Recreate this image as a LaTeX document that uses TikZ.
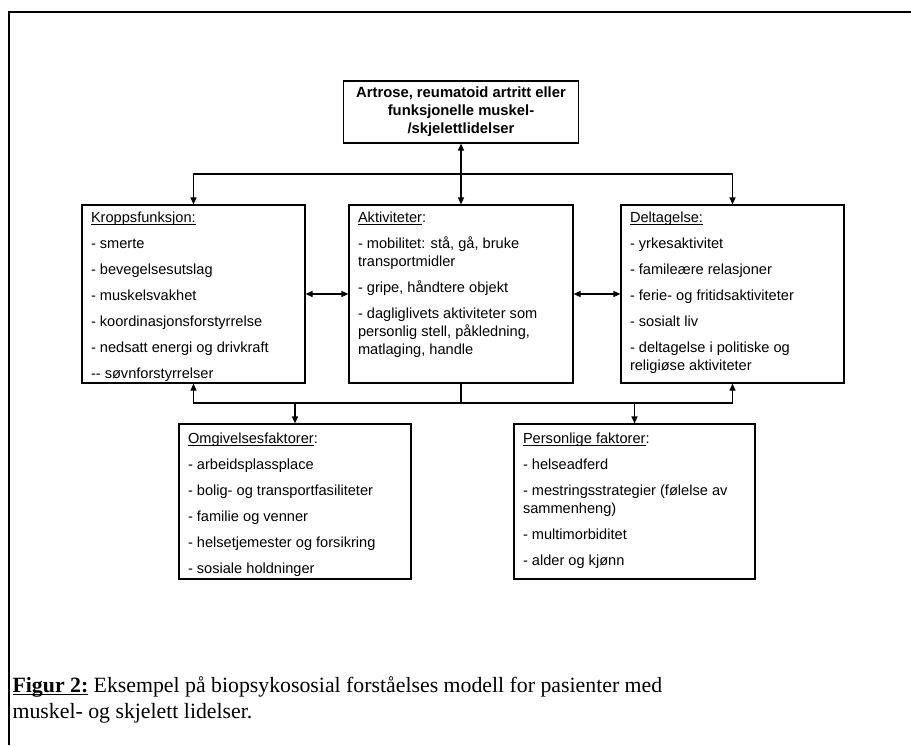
\documentclass[tikz,border=0pt]{standalone}
\usepackage{fontspec}
\setmainfont{Liberation Serif}
\setsansfont{Liberation Sans}
\usetikzlibrary{arrows.meta}
\def\boxnode{\node[draw,line width=0.6pt,inner sep=0pt]}
\def\listnode{\node[anchor=north west,align=left,inner xsep=4.5pt,inner ysep=3.5pt,font=\sffamily\fontsize{7.3}{9}\selectfont]}
\def\gap{\\[4pt]}
\def\ul#1{\setbox0\hbox{#1}\rlap{\rule[-1.2pt]{\wd0}{0.45pt}}\box0\relax}

\begin{document}
\begin{tikzpicture}[x=0.5pt,y=-0.5pt,>={Triangle[length=3.5pt,width=3pt]},line width=0.6pt]
\useasboundingbox (0,0) rectangle (911,745);
\draw[line width=1pt] (9,745) -- (9,12) -- (911,12);
\node[draw,minimum width=117.5pt,minimum height=31pt,inner sep=0pt,align=center,font=\sffamily\bfseries\fontsize{7.4}{9}\selectfont] (cause) at (461,112) {Artrose, reumatoid artritt eller\\funksjonelle muskel-\\/skjelettlidelser};
\boxnode[minimum width=111.5pt,minimum height=89pt] (body) at (193.5,294) {};
\boxnode[minimum width=112pt,minimum height=89pt] (activ) at (461,294) {};
\boxnode[minimum width=111.5pt,minimum height=89pt] (partic) at (732.5,294) {};
\boxnode[minimum width=116pt,minimum height=77.5pt] (environ) at (295,501.5) {};
\boxnode[minimum width=120.5pt,minimum height=77.5pt] (personal) at (634.5,501.5) {};
\listnode (bodytxt) at (body.north west) {\ul{Kroppsfunksjon:}\gap - smerte\gap - bevegelsesutslag\gap - muskelsvakhet\gap - koordinasjonsforstyrrelse\gap - nedsatt energi og drivkraft\gap -{}- søvnforstyrrelser};
\listnode (activtxt) at (activ.north west) {\ul{Aktiviteter}:\gap - mobilitet: stå, gå, bruke\\transportmidler\gap - gripe, håndtere objekt\gap - dagliglivets aktiviteter som\\personlig stell, påkledning,\\matlaging, handle};
\listnode (partictxt) at (partic.north west) {\ul{Deltagelse:}\gap - yrkesaktivitet\gap - famileære relasjoner\gap - ferie- og fritidsaktiviteter\gap - sosialt liv\gap - deltagelse i politiske og\\religiøse aktiviteter};
\listnode[yshift=-1pt] (environtxt) at (environ.north west) {\ul{Omgivelsesfaktorer}:\gap - arbeidsplassplace\gap - bolig- og transportfasiliteter\gap - familie og venner\gap - helsetjemester og forsikring\gap - sosiale holdninger};
\listnode[yshift=-1pt] (personaltxt) at (personal.north west) {\ul{Personlige faktorer}:\gap - helseadferd\gap - mestringsstrategier (følelse av\\sammenheng)\gap - multimorbiditet\gap - alder og kjønn};
\coordinate (topbar) at (461,174);
\coordinate (lowbar) at (461,403);
\draw[<->] (cause) -- (activ);
\draw[->] (topbar) -| (body.north);
\draw[->] (topbar) -| (partic.north);
\draw[<->] (body) -- (activ);
\draw[<->] (activ) -- (partic);
\draw (activ) -- (lowbar);
\draw[->] (lowbar) -| (body.south);
\draw[->] (lowbar) -| (partic.south);
\draw[->] (lowbar) -| (environ.north);
\draw[->] (lowbar) -| (personal.north);
\node[anchor=north west,inner sep=0pt,align=left,font=\fontsize{10.9}{13}\selectfont] (caption) at (12,676) {\ul{\textbf{Figur 2:}} Eksempel på biopsykososial forståelses modell for pasienter med\\muskel- og skjelett lidelser.};
\end{tikzpicture}
\end{document}
